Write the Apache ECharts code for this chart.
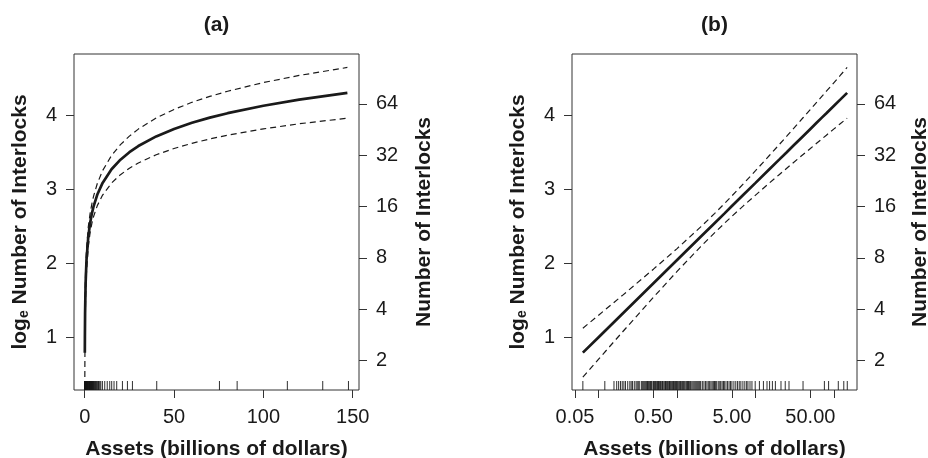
<!DOCTYPE html>
<html><head><meta charset="utf-8">
<script src="https://cdn.jsdelivr.net/npm/echarts@6/dist/echarts.min.js"></script>
<style>html,body{margin:0;padding:0;background:#fff}#c{width:928px;height:458px}</style>
</head><body><div id="c"></div>
<script>
// ---- data ----
const assets   = [0.063, 0.1, 0.2, 0.5, 1, 2, 3, 4, 5, 7, 10, 15, 20, 25, 30, 40, 50, 60, 70, 80, 100, 120, 147];
const fitLog   = [0.798, 1.007, 1.321, 1.736, 2.050, 2.364, 2.547, 2.677, 2.779, 2.931, 3.092, 3.276, 3.406, 3.507, 3.590, 3.720, 3.821, 3.904, 3.974, 4.034, 4.135, 4.217, 4.309];
const lowerLog = [0.468, 0.710, 1.073, 1.546, 1.896, 2.231, 2.417, 2.544, 2.641, 2.782, 2.927, 3.090, 3.203, 3.290, 3.361, 3.472, 3.557, 3.627, 3.686, 3.737, 3.822, 3.891, 3.966];
const upperLog = [1.128, 1.304, 1.569, 1.926, 2.204, 2.497, 2.677, 2.810, 2.917, 3.080, 3.257, 3.462, 3.609, 3.724, 3.819, 3.969, 4.085, 4.181, 4.261, 4.331, 4.448, 4.544, 4.652];
const rugAssets = [0.063, 0.12, 0.157, 0.17, 0.18, 0.19, 0.2, 0.21, 0.22, 0.235, 0.25, 0.26, 0.27, 0.285, 0.3, 0.31, 0.32, 0.33,
  0.35, 0.36, 0.37, 0.38, 0.39, 0.40, 0.41, 0.42, 0.43, 0.44, 0.45, 0.46, 0.47, 0.48, 0.50, 0.51, 0.52, 0.53, 0.55, 0.56, 0.57, 0.58,
  0.60, 0.61, 0.62, 0.64, 0.65, 0.66, 0.68, 0.70, 0.71, 0.72, 0.74, 0.75, 0.77, 0.79, 0.80, 0.82, 0.84, 0.86, 0.88, 0.90, 0.92, 0.94, 0.96, 0.98, 1.0,
  1.02, 1.05, 1.08, 1.1, 1.12, 1.15, 1.18, 1.2, 1.23, 1.26, 1.3, 1.33, 1.36, 1.4, 1.43, 1.47, 1.5, 1.55, 1.6, 1.65, 1.7, 1.75, 1.8, 1.85, 1.9, 1.95,
  2.0, 2.1, 2.2, 2.3, 2.4, 2.5, 2.6, 2.7, 2.8, 2.9, 3.0, 3.1, 3.2, 3.35, 3.5, 3.6, 3.75, 3.9, 4.0, 4.2, 4.4, 4.6, 4.8, 5.0, 5.3, 5.6, 5.9,
  6.2, 6.5, 6.9, 7.3, 7.7, 8.0, 8.5, 9.0, 9.9, 11.2, 12.6, 14.0, 15.1, 16.4, 17.9, 21.1, 23.9, 26.7, 40.3, 75.4, 85.3, 113.4, 133.2, 147.6];
const xTicksA = [0, 50, 100, 150];
const xTicksB = [0.05, 0.1, 0.5, 1, 5, 10, 50, 100];
const xLabelsB = [0.05, 0.5, 5, 50];
const yTicksLeft = [1, 2, 3, 4];
const yTicksRight = [2, 4, 8, 16, 32, 64];

// ---- styling / layout ----
const FONT = "'Liberation Sans', Arial, Helvetica, sans-serif";
const INK = '#1a1a1a';
const AX = '#333';
const Y_MIN = 0.293, Y_MAX = 4.834;
const XA_MIN = -6.0, XA_MAX = 153.5;
const XB_MIN = -1.339, XB_MAX = 2.293; // log10 units

const chart = echarts.init(document.getElementById('c'), null, {renderer: 'canvas'});

const tickStyle = {show: true, inside: false, length: 8, lineStyle: {color: AX, width: 1}};
const labelStyle = {fontFamily: FONT, fontSize: 20, color: INK, margin: 17};
const xLabelStyle = Object.assign({}, labelStyle, {margin: 17});
const nameStyle = {fontFamily: FONT, fontSize: 21, fontWeight: 'bold', color: INK};
const leftName = '{b|log}{s|e}{b| Number of Interlocks}';
const leftNameStyle = {
  fontFamily: FONT, color: INK,
  rich: {
    b: {fontFamily: FONT, fontSize: 21, fontWeight: 'bold', color: INK, verticalAlign: 'top', lineHeight: 21},
    s: {fontFamily: FONT, fontSize: 14, fontWeight: 'bold', color: INK, verticalAlign: 'bottom', lineHeight: 14, padding: [10, 0, 0, 0]}
  }
};
const noLine = {show: false, onZero: false};

function yAxesFor(gridIndex, rightGap) {
  return [
    {
      type: 'value', gridIndex, position: 'left', min: Y_MIN, max: Y_MAX,
      axisLine: noLine, splitLine: {show: false},
      axisTick: Object.assign({}, tickStyle, {customValues: yTicksLeft}),
      axisLabel: Object.assign({}, labelStyle, {customValues: yTicksLeft, formatter: v => String(Math.round(v))}),
      name: leftName, nameLocation: 'middle', nameRotate: 90, nameGap: 43, nameTextStyle: leftNameStyle
    },
    {
      type: 'value', gridIndex, position: 'right', min: Y_MIN, max: Y_MAX,
      axisLine: noLine, splitLine: {show: false},
      axisTick: Object.assign({}, tickStyle, {customValues: yTicksRight.map(Math.log)}),
      axisLabel: Object.assign({}, labelStyle, {customValues: yTicksRight.map(Math.log), formatter: v => String(Math.round(Math.exp(v)))}),
      name: 'Number of Interlocks', nameLocation: 'middle', nameRotate: 90, nameGap: rightGap, nameTextStyle: nameStyle
    }
  ];
}

const pairs = (xs, ys, f) => xs.map((x, i) => [f(x), ys[i]]);
const id = v => v;
const lg = v => Math.log10(v);

function seriesFor(idx, f) {
  const xAxisIndex = idx, yAxisIndex = idx * 2;
  const base = {type: 'line', xAxisIndex, yAxisIndex, showSymbol: false, symbol: 'none', silent: true, animation: false};
  return [
    Object.assign({}, base, {data: pairs(assets, upperLog, f), lineStyle: {color: INK, width: 1.2, type: [6, 4]}}),
    Object.assign({}, base, {data: pairs(assets, lowerLog, f), lineStyle: {color: INK, width: 1.2, type: [6, 4]}}),
    Object.assign({}, base, {data: pairs(assets, fitLog, f), lineStyle: {color: INK, width: 2.7}}),
    {
      type: 'scatter', xAxisIndex, yAxisIndex, silent: true, animation: false, clip: false,
      symbol: 'rect', symbolSize: [1, 9], symbolOffset: [0, -4.5],
      itemStyle: {color: INK, opacity: 0.9},
      data: rugAssets.map(a => [f(a), Y_MIN])
    }
  ];
}

const gridBase = {top: 54, width: 285, height: 336, show: true, borderColor: AX, borderWidth: 1,
  backgroundColor: 'transparent', containLabel: false, outerBoundsMode: 'none'};

const option = {
  backgroundColor: '#fff',
  animation: false,
  grid: [
    Object.assign({left: 74}, gridBase),
    Object.assign({left: 572}, gridBase)
  ],
  xAxis: [
    {
      type: 'value', gridIndex: 0, min: XA_MIN, max: XA_MAX,
      axisLine: noLine, splitLine: {show: false},
      axisTick: Object.assign({}, tickStyle, {customValues: xTicksA}),
      axisLabel: Object.assign({}, xLabelStyle, {customValues: xTicksA}),
      name: 'Assets (billions of dollars)', nameLocation: 'middle', nameGap: 49, nameTextStyle: nameStyle
    },
    {
      type: 'value', gridIndex: 1, min: XB_MIN, max: XB_MAX,
      axisLine: noLine, splitLine: {show: false},
      axisTick: Object.assign({}, tickStyle, {customValues: xTicksB.map(lg)}),
      axisLabel: Object.assign({}, xLabelStyle, {customValues: xLabelsB.map(lg), formatter: v => Math.pow(10, v).toFixed(2)}),
      name: 'Assets (billions of dollars)', nameLocation: 'middle', nameGap: 49, nameTextStyle: nameStyle
    }
  ],
  yAxis: yAxesFor(0, 55).concat(yAxesFor(1, 53)),
  series: seriesFor(0, id).concat(seriesFor(1, lg)),
  graphic: [
    {type: 'text', x: 216.5, y: 25, style: {text: '(a)', font: 'bold 21px ' + FONT, fill: INK, align: 'center', verticalAlign: 'middle', textAlign: 'center', textVerticalAlign: 'middle'}},
    {type: 'text', x: 714.5, y: 25, style: {text: '(b)', font: 'bold 21px ' + FONT, fill: INK, align: 'center', verticalAlign: 'middle', textAlign: 'center', textVerticalAlign: 'middle'}}
  ]
};
chart.setOption(option);
</script>
</body></html>
